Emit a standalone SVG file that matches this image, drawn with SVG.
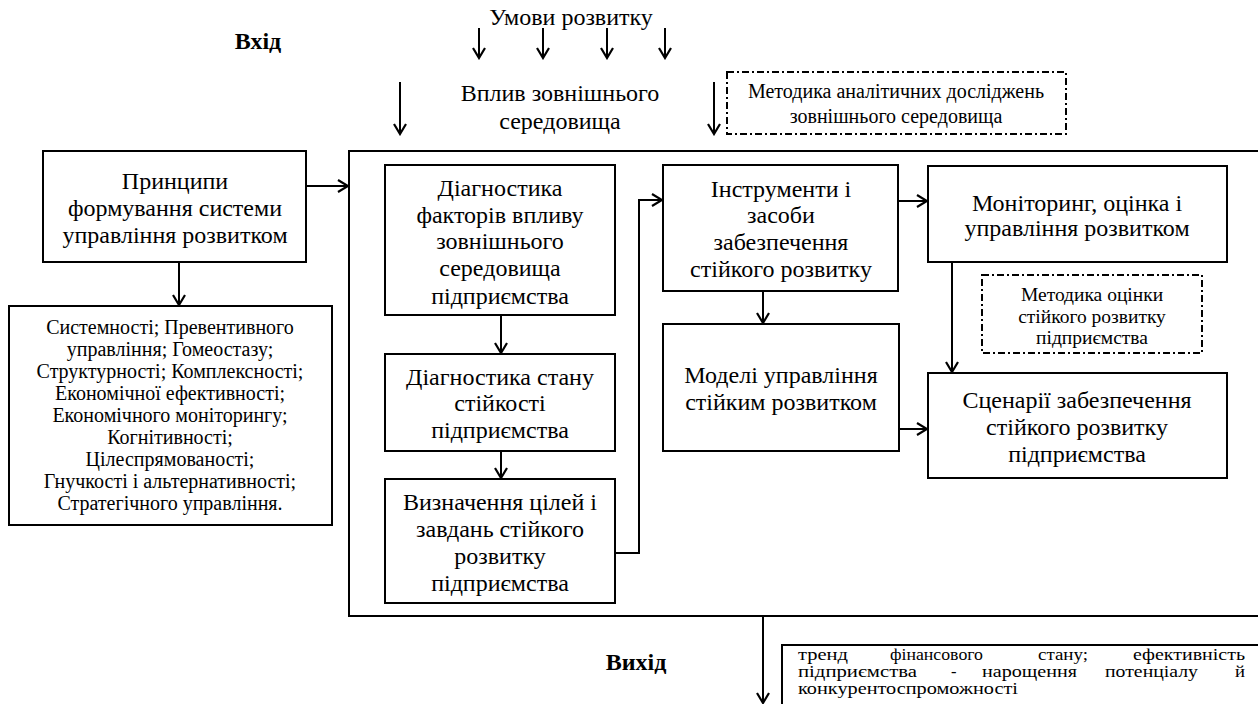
<svg xmlns="http://www.w3.org/2000/svg" width="1258" height="704" viewBox="0 0 1258 704">
  <style>
    .box { fill: #fff; stroke: #000; stroke-width: 2; }
    .dash { fill: #fff; stroke: #000; stroke-width: 2; stroke-dasharray: 7 3 2 3; }
    .arr { fill: none; stroke: #000; stroke-width: 2; marker-end: url(#head); }
    text { font-family: "Liberation Serif", "Times New Roman", serif; fill: #000; }
    .t24 { font-size: 24px; text-anchor: middle; }
    .t20 { font-size: 20px; text-anchor: middle; }
    .t19 { font-size: 19.5px; text-anchor: middle; }
    .tj { font-size: 16.5px; }
    .bold { font-size: 24px; font-weight: bold; text-anchor: middle; }
  </style>
  <defs>
    <marker id="head" viewBox="0 0 14 14" refX="12" refY="7" markerWidth="14" markerHeight="14" markerUnits="userSpaceOnUse" orient="auto">
      <polyline points="2,1 12,7 2,13" fill="none" stroke="#000" stroke-width="2.2"/>
    </marker>
  </defs>

  <rect width="1258" height="704" fill="#fff"/>

  <!-- labels outside the system frame -->
  <g id="labels">
    <text class="bold" x="258" y="49">Вхід</text>
    <text class="bold" x="636" y="670">Вихід</text>
    <text class="t24" x="571" y="25">Умови розвитку</text>
    <text class="t24" x="560" y="101">Вплив зовнішнього</text>
    <text class="t24" x="560" y="129">середовища</text>
  </g>

  <!-- system frame -->
  <g id="frame">
    <rect class="box" x="349" y="151" width="920" height="465"/>
  </g>

  <g id="method-env">
    <rect class="dash" x="727" y="72" width="339" height="62"/>
    <text class="t20" x="896" y="98">Методика аналітичних досліджень</text>
    <text class="t20" x="896" y="123">зовнішнього середовища</text>
  </g>

  <g id="principles">
    <rect class="box" x="43" y="151" width="263" height="111"/>
    <text class="t24" x="175" y="189">Принципи</text>
    <text class="t24" x="175" y="216">формування системи</text>
    <text class="t24" x="175" y="243">управління розвитком</text>
  </g>

  <g id="principles-list">
    <rect class="box" x="9" y="306" width="323" height="219"/>
    <text class="t20" x="170" y="334">Системності; Превентивного</text>
    <text class="t20" x="170" y="356">управління; Гомеостазу;</text>
    <text class="t20" x="170" y="378">Структурності; Комплексності;</text>
    <text class="t20" x="170" y="400">Економічної ефективності;</text>
    <text class="t20" x="170" y="422">Економічного моніторингу;</text>
    <text class="t20" x="170" y="444">Когнітивності;</text>
    <text class="t20" x="170" y="466">Цілеспрямованості;</text>
    <text class="t20" x="170" y="488">Гнучкості і альтернативності;</text>
    <text class="t20" x="170" y="510">Стратегічного управління.</text>
  </g>

  <g id="diag-factors">
    <rect class="box" x="385" y="165" width="230" height="150"/>
    <text class="t24" x="500" y="196">Діагностика</text>
    <text class="t24" x="500" y="223">факторів впливу</text>
    <text class="t24" x="500" y="249">зовнішнього</text>
    <text class="t24" x="500" y="276">середовища</text>
    <text class="t24" x="500" y="304">підприємства</text>
  </g>

  <g id="diag-state">
    <rect class="box" x="385" y="354" width="230" height="97"/>
    <text class="t24" x="500" y="385">Діагностика стану</text>
    <text class="t24" x="500" y="411">стійкості</text>
    <text class="t24" x="500" y="438">підприємства</text>
  </g>

  <g id="goals">
    <rect class="box" x="385" y="479" width="230" height="124"/>
    <text class="t24" x="500" y="510">Визначення цілей і</text>
    <text class="t24" x="500" y="537">завдань стійкого</text>
    <text class="t24" x="500" y="564">розвитку</text>
    <text class="t24" x="500" y="591">підприємства</text>
  </g>

  <g id="tools">
    <rect class="box" x="663" y="165" width="235" height="126"/>
    <text class="t24" x="781" y="197">Інструменти і</text>
    <text class="t24" x="781" y="223">засоби</text>
    <text class="t24" x="781" y="250">забезпечення</text>
    <text class="t24" x="781" y="277">стійкого розвитку</text>
  </g>

  <g id="models">
    <rect class="box" x="663" y="324" width="236" height="127"/>
    <text class="t24" x="781" y="383">Моделі управління</text>
    <text class="t24" x="781" y="410">стійким розвитком</text>
  </g>

  <g id="monitoring">
    <rect class="box" x="928" y="166" width="299" height="96"/>
    <text class="t24" x="1077" y="211">Моніторинг, оцінка і</text>
    <text class="t24" x="1077" y="236">управління розвитком</text>
  </g>

  <g id="method-eval">
    <rect class="dash" x="982" y="275" width="220" height="78"/>
    <text class="t19" x="1092" y="301">Методика оцінки</text>
    <text class="t19" x="1092" y="323">стійкого розвитку</text>
    <text class="t19" x="1092" y="344">підприємства</text>
  </g>

  <g id="scenarios">
    <rect class="box" x="928" y="373" width="299" height="105"/>
    <text class="t24" x="1077" y="408">Сценарії забезпечення</text>
    <text class="t24" x="1077" y="435">стійкого розвитку</text>
    <text class="t24" x="1077" y="462">підприємства</text>
  </g>

  <!-- justified result text, word by word, slightly widened glyphs -->
  <g id="result">
    <rect class="box" x="782" y="645" width="490" height="70"/>
    <text class="tj" x="798" y="660" textLength="50" lengthAdjust="spacingAndGlyphs">тренд</text>
    <text class="tj" x="890" y="660" textLength="93" lengthAdjust="spacingAndGlyphs">фінансового</text>
    <text class="tj" x="1038" y="660" textLength="50" lengthAdjust="spacingAndGlyphs">стану;</text>
    <text class="tj" x="1133" y="660" textLength="112" lengthAdjust="spacingAndGlyphs">ефективність</text>
    <text class="tj" x="798" y="677" textLength="119" lengthAdjust="spacingAndGlyphs">підприємства</text>
    <text class="tj" x="951" y="677">-</text>
    <text class="tj" x="982" y="677" textLength="95" lengthAdjust="spacingAndGlyphs">нарощення</text>
    <text class="tj" x="1105" y="677" textLength="93" lengthAdjust="spacingAndGlyphs">потенціалу</text>
    <text class="tj" x="1235" y="677" textLength="10" lengthAdjust="spacingAndGlyphs">й</text>
    <text class="tj" x="798" y="694" textLength="220" lengthAdjust="spacingAndGlyphs">конкурентоспроможності</text>
  </g>

  <!-- connectors -->
  <g id="connectors">
    <line class="arr" x1="479" y1="28" x2="479" y2="58"/>
    <line class="arr" x1="543" y1="28" x2="543" y2="58"/>
    <line class="arr" x1="607" y1="28" x2="607" y2="58"/>
    <line class="arr" x1="665" y1="28" x2="665" y2="58"/>
    <line class="arr" x1="400" y1="82" x2="400" y2="134"/>
    <line class="arr" x1="714" y1="82" x2="714" y2="134"/>
    <line class="arr" x1="306" y1="186" x2="348" y2="186"/>
    <line class="arr" x1="179" y1="262" x2="179" y2="305"/>
    <line class="arr" x1="501" y1="315" x2="501" y2="353"/>
    <line class="arr" x1="501" y1="451" x2="501" y2="478"/>
    <polyline class="arr" points="615,553 639,553 639,200 662,200"/>
    <line class="arr" x1="763" y1="291" x2="763" y2="323"/>
    <line class="arr" x1="898" y1="201" x2="927" y2="201"/>
    <line class="arr" x1="952" y1="262" x2="952" y2="372"/>
    <line class="arr" x1="899" y1="429" x2="927" y2="429"/>
    <line class="arr" x1="763" y1="616" x2="763" y2="703"/>
  </g>
</svg>
